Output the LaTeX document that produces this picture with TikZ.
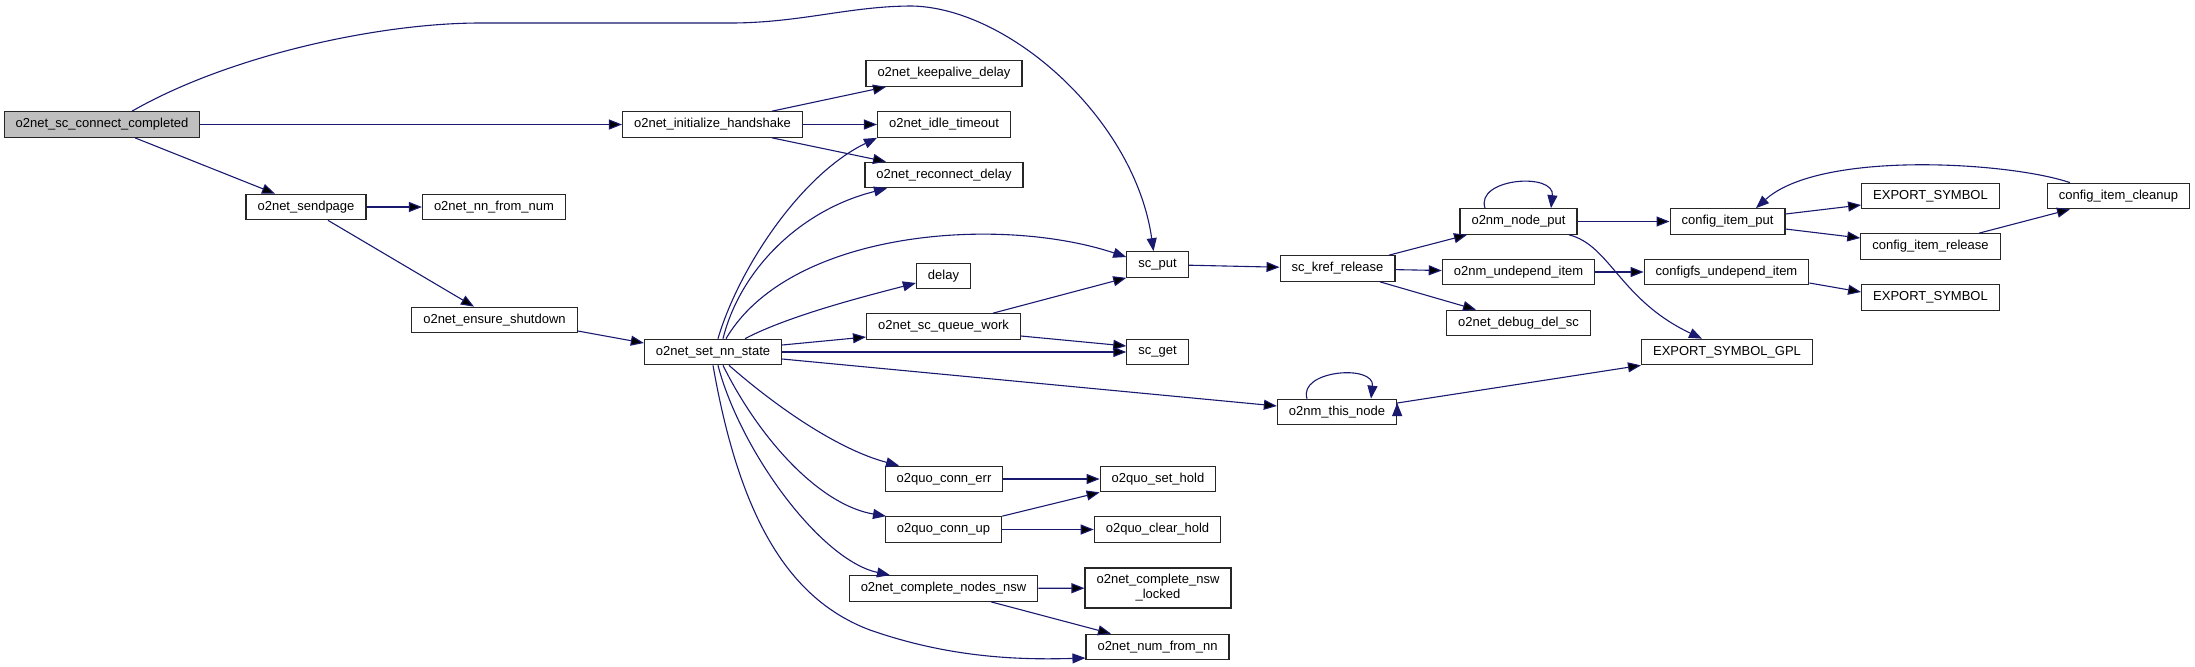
\documentclass[tikz,border=0pt]{standalone}
\usepackage{fontspec}
\setmainfont{Liberation Sans}
\usepackage{tikz}
\usetikzlibrary{arrows.meta}

\definecolor{edgeblue}{HTML}{191970}
\definecolor{rootgray}{HTML}{BFBFBF}

\tikzset{
  fn/.style={draw=black!85,line width=0.6pt,fill=white,inner xsep=5.75pt,inner ysep=0pt,
    minimum height=12.75pt,font=\fontsize{6.5pt}{7.5pt}\selectfont},
  call/.style={->,draw=edgeblue,line width=0.55pt}
}

\begin{document}
\begin{tikzpicture}[>={Triangle[length=6.5pt,width=5pt]},x=0.5pt,y=-0.5pt]
  \useasboundingbox (0,0) rectangle (2195,666);

  % Funzioni
  \node[fn,fill=rootgray] (root) at (102,124.5) {o2net\_sc\_connect\_completed};
  \node[fn] (ihs) at (712.5,124.5) {o2net\_initialize\_handshake};
  \node[fn] (sendpage) at (306,207) {o2net\_sendpage};
  \node[fn] (nnfromnum) at (494,207) {o2net\_nn\_from\_num};
  \node[fn] (shutdown) at (494.5,320) {o2net\_ensure\_shutdown};
  \node[fn] (setnn) at (713,352) {o2net\_set\_nn\_state};
  \node[fn] (keepalive) at (944,73.5) {o2net\_keepalive\_delay};
  \node[fn] (idle) at (944,124.5) {o2net\_idle\_timeout};
  \node[fn] (reconnect) at (944,175) {o2net\_reconnect\_delay};
  \node[fn] (delay) at (943.5,276) {delay};
  \node[fn] (queue) at (943.5,326.5) {o2net\_sc\_queue\_work};
  \node[fn] (scput) at (1157.5,264.5) {sc\_put};
  \node[fn] (scget) at (1157.5,352) {sc\_get};
  \node[fn] (connerr) at (944,479) {o2quo\_conn\_err};
  \node[fn] (sethold) at (1158,479) {o2quo\_set\_hold};
  \node[fn] (connup) at (943.5,529.5) {o2quo\_conn\_up};
  \node[fn] (clearhold) at (1157.5,529.5) {o2quo\_clear\_hold};
  \node[fn] (nodesnsw) at (943.5,588.5) {o2net\_complete\_nodes\_nsw};
  \node[fn,minimum height=20pt,align=center] (nswlocked) at (1158,588) {o2net\_complete\_nsw\\\_locked};
  \node[fn] (numfromnn) at (1157.5,647) {o2net\_num\_from\_nn};
  \node[fn] (krefrel) at (1337.5,268.5) {sc\_kref\_release};
  \node[fn] (thisnode) at (1337,412) {o2nm\_this\_node};
  \node[fn] (nodeput) at (1518.5,221.5) {o2nm\_node\_put};
  \node[fn] (undepend) at (1518.5,272) {o2nm\_undepend\_item};
  \node[fn] (debugdel) at (1518.5,323) {o2net\_debug\_del\_sc};
  \node[fn] (itemput) at (1727.5,221.5) {config\_item\_put};
  \node[fn] (cfsundepend) at (1726.5,272) {configfs\_undepend\_item};
  \node[fn] (gpl) at (1727,352) {EXPORT\_SYMBOL\_GPL};
  \node[fn] (expsyma) at (1930.5,196) {EXPORT\_SYMBOL};
  \node[fn] (itemrel) at (1930.5,246.5) {config\_item\_release};
  \node[fn] (expsymb) at (1930.5,297.5) {EXPORT\_SYMBOL};
  \node[fn] (cleanup) at (2118.5,196) {config\_item\_cleanup};

  % Chiamate
  \path[call]
    (root) edge (ihs)
    ([xshift=16.5pt]root.south) edge ([xshift=-15.5pt]sendpage.north)
    (sendpage) edge (nnfromnum)
    ([xshift=11pt]sendpage.south) edge ([xshift=-10.25pt]shutdown.north)
    ([yshift=-5.5pt]shutdown.east) edge ([yshift=4.5pt]setnn.west)

    ([xshift=29.75pt]ihs.north) edge ([xshift=-29pt]keepalive.south)
    (ihs) edge (idle)
    ([xshift=29.75pt]ihs.south) edge ([xshift=-29pt]reconnect.north)

    ([yshift=3.5pt]setnn.east) edge ([yshift=-5.25pt]queue.west)
    (setnn) edge (scget)
    ([yshift=-3.5pt]setnn.east) edge ([yshift=3pt]thisnode.west)
    ([xshift=24.75pt]queue.north) edge (scput.south west)
    ([yshift=-4.75pt]queue.east) edge ([yshift=3pt]scget.west)

    (connerr) edge (sethold)
    (connup.north east) edge (sethold.south west)
    (connup) edge (clearhold)
    (nodesnsw) edge (nswlocked)
    ([xshift=23.75pt]nodesnsw.south) edge ([xshift=-23.25pt]numfromnn.north)

    (scput) edge (krefrel)
    ([xshift=25.75pt]krefrel.north) edge ([xshift=-25.75pt]nodeput.south)
    (krefrel) edge (undepend)
    ([xshift=21.25pt]krefrel.south) edge ([xshift=-21.25pt]debugdel.north)
    (nodeput) edge (itemput)
    (undepend) edge (cfsundepend)
    ([yshift=-5.5pt]cfsundepend.east) edge ([yshift=2.75pt]expsymb.west)
    ([yshift=3.75pt]itemput.east) edge ([yshift=-4.5pt]expsyma.west)
    ([yshift=-3.75pt]itemput.east) edge ([yshift=4.25pt]itemrel.west)
    ([xshift=24.25pt]itemrel.north) edge ([xshift=-24.25pt]cleanup.south)
    ([yshift=4.5pt]thisnode.east) edge (gpl.south west);

  \draw[call] ([xshift=15pt]root.north) .. controls (230,55) and (380,23) .. (480,23)
    -- (730,23) .. controls (800,23) and (850,6) .. (912,6)
    .. controls (1010,8) and (1135,120) .. ([xshift=-2pt]scput.north);
  \draw[call] ([xshift=2.5pt]setnn.north) .. controls (738,270) and (800,175) .. (idle.south west);
  \draw[call] ([xshift=5pt]setnn.north) .. controls (740,270) and (800,210) .. ([xshift=-28.5pt]reconnect.south);
  \draw[call] ([xshift=6.5pt]setnn.north) .. controls (790,230) and (1000,215) .. ([yshift=3.75pt]scput.west);
  \draw[call] ([xshift=16pt]setnn.north) .. controls (790,315) and (870,295) .. ([yshift=-3.5pt]delay.west);
  \draw[call] ([xshift=8pt]setnn.south) .. controls (780,410) and (840,450) .. ([xshift=-22.5pt]connerr.north);
  \draw[call] ([xshift=5pt]setnn.south) .. controls (760,440) and (820,505) .. ([xshift=-28.75pt]connup.north);
  \draw[call] ([xshift=2.5pt]setnn.south) .. controls (740,450) and (820,560) .. ([xshift=-26.75pt]nodesnsw.north);
  \draw[call] (setnn.south) .. controls (740,520) and (790,600) .. (870,630)
    .. controls (950,658) and (1020,660) .. ([yshift=-5.5pt]numfromnn.west);
  \draw[call] ([xshift=-16.75pt]nodeput.north) .. controls (1475,178) and (1555,172) .. ([xshift=16.25pt]nodeput.north);
  \draw[call] ([xshift=25.25pt]nodeput.south) .. controls (1610,245) and (1620,300) .. ([xshift=-12.5pt]gpl.north);
  \draw[call] ([xshift=-24.25pt]cleanup.north) .. controls (2010,162) and (1820,150) .. ([xshift=14.25pt]itemput.north);
  \draw[call] ([xshift=-15pt]thisnode.north) .. controls (1298,370) and (1375,364) .. ([xshift=17pt]thisnode.north);

\end{tikzpicture}
\end{document}
